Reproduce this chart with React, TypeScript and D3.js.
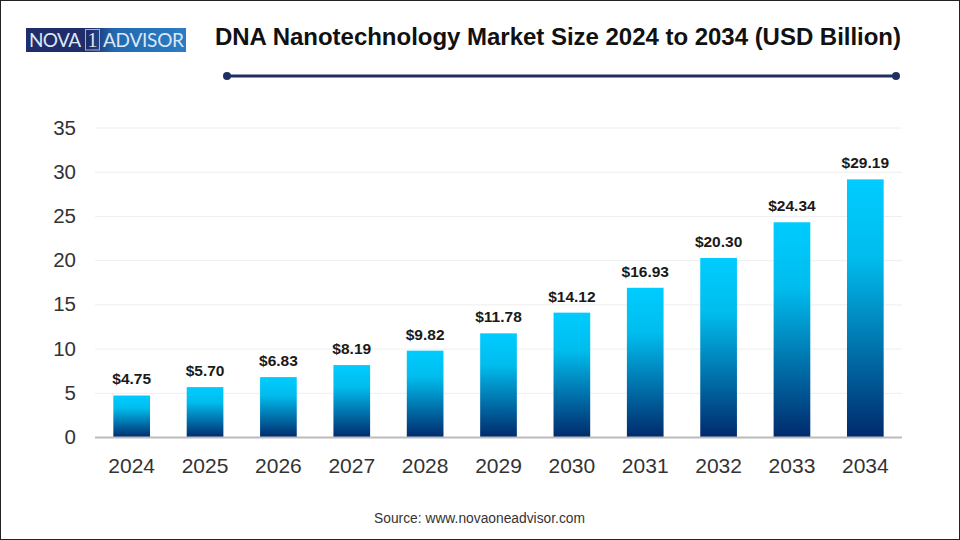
import React from "react";
import * as d3 from "d3";

const years = ["2024","2025","2026","2027","2028","2029","2030","2031","2032","2033","2034"];
const values = [4.75,5.70,6.83,8.19,9.82,11.78,14.12,16.93,20.30,24.34,29.19];
const yTicks = [0,5,10,15,20,25,30,35];
const titleText = "DNA Nanotechnology Market Size 2024 to 2034 (USD Billion)";
const sourceText = "Source: www.novaoneadvisor.com";

const W = 960, H = 540;
const x = d3.scaleBand<string>().domain(years).range([95, 902]).paddingInner(0.5).paddingOuter(0.25);
const y = d3.scaleLinear().domain([0, 35]).range([437.5, 128]);
const font = "Liberation Sans, Arial, sans-serif";

export default function App() {
  return (
    <svg width={W} height={H} viewBox={`0 0 ${W} ${H}`} style={{ position: "fixed", left: 0, top: 0, background: "#fff" }} fontFamily={font}>
      <defs>
        <linearGradient id="bar" x1="0" y1="0" x2="0" y2="1">
          <stop offset="0" stopColor="#00CCFF" />
          <stop offset="0.3" stopColor="#00BDEE" />
          <stop offset="1" stopColor="#002A6C" />
        </linearGradient>
        <linearGradient id="logo" x1="0" y1="0" x2="1" y2="0">
          <stop offset="0" stopColor="#212D6B" />
          <stop offset="0.4" stopColor="#212D6B" />
          <stop offset="0.55" stopColor="#2368AE" />
          <stop offset="1" stopColor="#2A7DC4" />
        </linearGradient>
      </defs>
      <rect x={0.5} y={0.5} width={W - 1} height={H - 1} fill="#fff" stroke="#222" strokeWidth={1} />

      <rect x={26} y={28} width={160} height={24} fill="url(#logo)" />
      <text x={29} y={47} fontFamily="Lato, sans-serif" fontSize={19} fill="#DCE8F5" textLength={52}>NOVA</text>
      <rect x={85.5} y={29.5} width={14} height={20.5} fill="none" stroke="#9DB4DA" strokeWidth={1} />
      <text x={92.5} y={47} fontFamily="Liberation Serif, serif" fontSize={20} fill="#DCE8F5" textAnchor="middle">1</text>
      <text x={103} y={47} fontFamily="Lato, sans-serif" fontSize={19} fill="#DCE8F5" textLength={81}>ADVISOR</text>

      <text x={558} y={45} textAnchor="middle" fontSize={24} fontWeight={700} fill="#111" textLength={686} fontFamily="Liberation Sans, Arial, sans-serif">{titleText}</text>
      <line x1={227} x2={896} y1={76} y2={76} stroke="#1F2F63" strokeWidth={3} />
      <circle cx={227} cy={76} r={4} fill="#1F2F63" />
      <circle cx={896} cy={76} r={4} fill="#1F2F63" />

      {yTicks.filter(t => t > 0).map(t => (
        <line key={t} x1={95} x2={902} y1={y(t)} y2={y(t)} stroke="#EEEEEE" strokeWidth={1} />
      ))}
      {yTicks.map(t => (
        <text key={t} x={76} y={y(t) + 6.5} textAnchor="end" fontSize={20.5} fill="#333">{t}</text>
      ))}

      {years.map((yr, i) => (
        <g key={yr}>
          <rect x={x(yr)!} y={y(values[i])} width={x.bandwidth()} height={y(0) - y(values[i])} fill="url(#bar)" />
          <text x={x(yr)! + x.bandwidth() / 2} y={y(values[i]) - 11} textAnchor="middle" fontSize={15.5} fontWeight={700} fill="#1a1a1a">${values[i].toFixed(2)}</text>
          <text x={x(yr)! + x.bandwidth() / 2} y={472.5} textAnchor="middle" fontSize={21} fill="#333">{yr}</text>
        </g>
      ))}
      <line x1={95} x2={902} y1={y(0)} y2={y(0)} stroke="#BBBBBB" strokeWidth={2} />

      <text x={479.5} y={523} textAnchor="middle" fontSize={13.8} fill="#333">{sourceText}</text>
    </svg>
  );
}
